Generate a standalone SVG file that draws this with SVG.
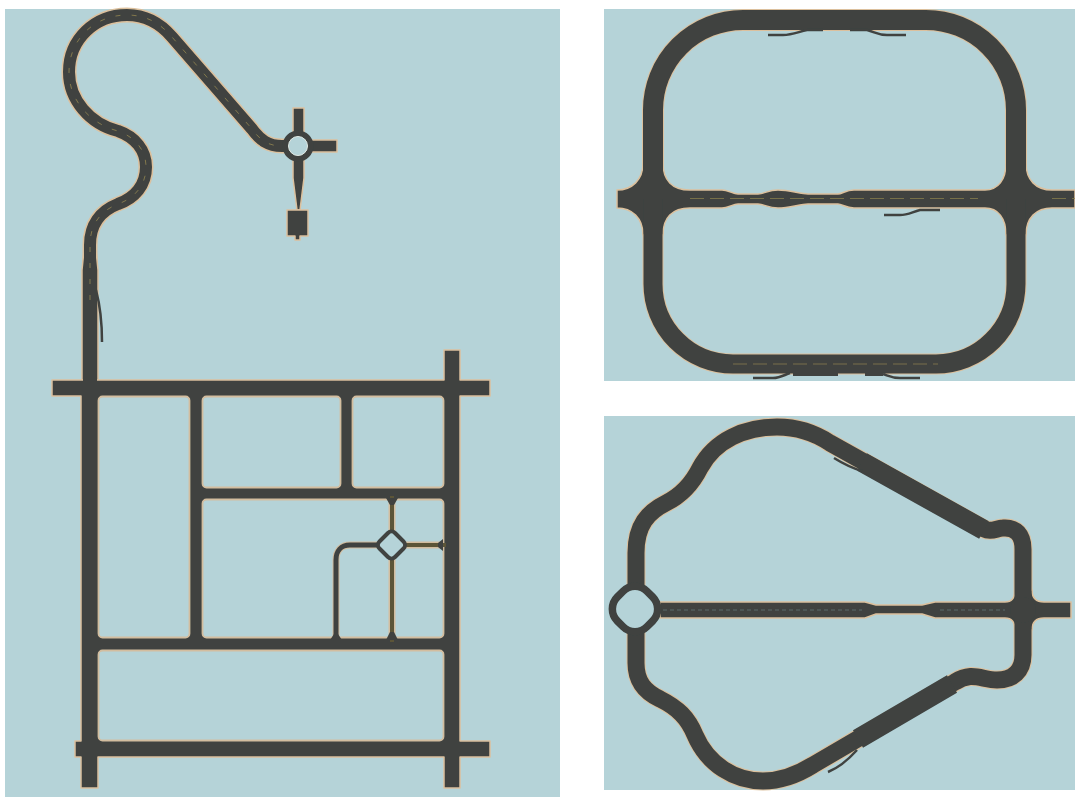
<svg xmlns="http://www.w3.org/2000/svg" width="1075" height="797" viewBox="0 0 1075 797">
<style>
.panel{fill:#b5d3d8}
.casing{fill:none;stroke:#dcc09d;stroke-linecap:butt;stroke-linejoin:round}
.road{fill:none;stroke:#3f4341;stroke-linecap:butt;stroke-linejoin:round}
.solid{fill:#3f4341;stroke:#dcc09d;stroke-width:1.5;stroke-linejoin:round}
.solidn{fill:#3f4341}
.cell{fill:#b5d3d8;stroke:#d3bd9f;stroke-width:1.8}
.ramp{fill:none;stroke:#3f4341;stroke-width:2.5;stroke-linecap:butt}
.mark{fill:none;stroke:#8b7d4e;stroke-width:1;stroke-dasharray:14 6;opacity:.75}
.dash{fill:none;stroke:#93854f;stroke-width:1;stroke-dasharray:5 11;opacity:.8}
</style>
<defs>
<filter id="soft" x="-2%" y="-2%" width="104%" height="104%"><feGaussianBlur stdDeviation="0.7"/></filter>
<path id="leftRoad" d="M90 300 L90 245 C90 225 100 211 118 204 C135 198 146 185 146 167 C146 150 135 137 118 131 C90 124 69 100 69 72 C69 39 95 15 127 15 C146 15 160 23 172 37 L252 129 C260 140 268 146 282 146 L298 146"/>
<path id="ringTop" d="M653 199 L653 110 A90 90 0 0 1 743 20 L926 20 A90 90 0 0 1 1016 110 L1016 199"/>
<path id="ringBottom" d="M653 199 L653 284 A80 80 0 0 0 733 364 L936 364 A80 80 0 0 0 1016 284 L1016 199"/>
<path id="bottomUpper" d="M636 590 L636 553 C636 525 648 512 666 503 C682 495 692 484 700 468 C715 440 745 427 777 427 C798 427 815 433 830 443 L984 529 C992 533 996 528 1003 528 C1016 527 1023 535 1023 549 L1023 610"/>
<path id="bottomLower" d="M636 630 L636 663 C636 682 645 692 660 699 C678 708 688 718 695 735 C708 765 735 781 763 781 C782 781 797 775 813 765 L955 682 C972 671 982 680 997 680 C1013 680 1023 671 1023 655 L1023 610"/>
</defs>
<rect width="1075" height="797" fill="#fff"/>
<g filter="url(#soft)">
<g id="panel-left">
<rect class="panel" x="5" y="9" width="555" height="788"/>
<g id="left-upper-road">
<use href="#leftRoad" class="casing" stroke-width="15"/>
<path class="solid" d="M85 240 L95 240 L98 270 L98 382 L82 382 L82 270 Z"/>
<use href="#leftRoad" class="road" stroke-width="12"/>
<use href="#leftRoad" class="dash"/>
<path class="ramp" d="M96 290 C100 305 102 325 102 342"/>
</g>
<g id="left-roundabout">
<path class="solid" d="M293 108 H304 V135 H293 Z M308 140 H337 V152 H308 Z"/>
<path class="solid" d="M293 158 H304 V178 L300 210 H297 L293 178 Z"/>
<path class="solid" d="M287 210 H308 V236 H300 V240 H295 V236 H287 Z"/>
<circle cx="298" cy="146" r="12.500" fill="#b5d3d8" stroke="#3f4341" stroke-width="6"/>
<circle cx="298" cy="146" r="9.500" fill="#b5d3d8" stroke="#dfe6e0" stroke-width="1"/>
</g>
<g id="left-grid">
<path class="solid" d="M52 380 H444 V350 H460 V380 H490 V396 H460 V741 H490 V757 H460 V788 H444 V757 H98 V788 H81 V757 H75 V741 H81 V396 H52 Z"/>
<rect class="solidn" x="83" y="374" width="14" height="10"/>
<rect class="cell" x="98.500" y="396.500" width="91" height="241" rx="4"/>
<rect class="cell" x="202.500" y="396.500" width="138" height="91" rx="4"/>
<rect class="cell" x="352.500" y="396.500" width="91" height="91" rx="4"/>
<rect class="cell" x="202.500" y="499.500" width="241" height="138" rx="4"/>
<rect class="cell" x="98.500" y="650.500" width="345" height="90" rx="4"/>
<path fill="none" stroke="#d3bd9f" stroke-width="7" d="M392 500 V637 M398 545 H443 M385 545 H350 C341 545 336 551 336 560 V637"/>
<path fill="none" stroke="#3f4341" stroke-width="5" d="M385 545 H350 C341 545 336 551 336 560 V640"/>
<path fill="none" stroke="#5c5437" stroke-width="4" d="M392 496 V642 M392 545 H446"/>
<path class="solidn" d="M386 498 H398 L394 505 H390 Z M386 640 H398 L394 632 H390 Z M330 640 H342 L338 634 H334 Z M443 539 V551 L438 547 V543 Z"/>
<rect id="left-diamond" x="380.500" y="534" width="22" height="22" rx="5" transform="rotate(45 391.500 545)" fill="#b5d3d8" stroke="#3f4341" stroke-width="4"/>
</g>
</g>
<g id="panel-top-right">
<rect class="panel" x="604" y="9" width="471" height="372"/>
<g id="top-ring">
<use href="#ringTop" class="casing" stroke-width="22"/>
<use href="#ringBottom" class="casing" stroke-width="21"/>
</g>
<g id="top-middle-road">
<path class="solid" d="M617 190 C632 190 643 180 643 163 H663 C663 180 672 190 690 190 H722 C728 190 733 194 738 194 H758 C764 194 768 190 778 190 C790 190 800 194 808 194 H838 C842 194 846 190 854 190 H985 C998 190 1006 180 1006 163 H1026 C1026 180 1036 190 1052 190 H1075 V208 H1052 C1036 208 1026 218 1026 235 H1006 C1006 218 998 208 985 208 H854 C846 208 842 204 838 204 H808 C800 204 790 208 778 208 C768 208 764 204 758 204 H738 C733 204 728 208 722 208 H690 C672 208 663 218 663 235 H643 C643 218 632 208 617 208 Z"/>
<path class="mark" d="M690 198.500 H978 M1052 198.500 H1075"/>
</g>
<g id="top-ring-surface">
<use href="#ringTop" class="road" stroke-width="20"/>
<use href="#ringBottom" class="road" stroke-width="19"/>
</g>
<g id="top-ramps">
<path class="ramp" d="M768 35 H783 C792 35 798 32 807 30 H823"/>
<path class="ramp" d="M906 35 H887 C878 35 875 32 867 30 H850"/>
<path class="ramp" d="M884 215 H900 C908 215 912 212 920 210 H940"/>
<path class="ramp" d="M753 378 H773 C780 378 784 375 790 373"/>
<path class="ramp" d="M920 378 H900 C892 378 889 376 883 374"/>
<path class="solidn" d="M793 371 H838 V376 H793 Z M865 371 H883 V376 H865 Z"/>
<path class="mark" d="M733 364 H938"/>
</g>
</g>
<g id="panel-bottom-right">
<rect class="panel" x="604" y="416" width="471" height="374"/>
<g id="bottom-loop">
<use href="#bottomUpper" class="casing" stroke-width="19"/>
<use href="#bottomLower" class="casing" stroke-width="19"/>
</g>
<g id="bottom-axis">
<path class="solid" d="M660 602 H865 L876 605 H922 L935 602 H1005 C1012 602 1015 598 1015 590 H1032 C1032 598 1036 602 1044 602 H1071 V618 H1044 C1036 618 1032 622 1032 630 H1015 C1015 622 1012 618 1005 618 H935 L922 614 H876 L865 618 H660 Z"/>
<path d="M663 610 H862 M940 610 H1005" fill="none" stroke="#5f6a6a" stroke-width="1" stroke-dasharray="4 3"/>
</g>
<g id="bottom-loop-surface">
<use href="#bottomUpper" class="road" stroke-width="17"/>
<use href="#bottomLower" class="road" stroke-width="17"/>
<path d="M862 462 L984 530 M858 739 L952 684" fill="none" stroke="#3f4341" stroke-width="20"/>
<circle class="solidn" cx="1023" cy="610" r="13"/>
<path class="ramp" d="M834 458 C842 463 852 468 862 471" stroke-width="1.500"/>
<path class="ramp" d="M828 772 C838 768 848 760 857 750"/>
</g>
<g id="bottom-roundabout">
<rect x="614" y="588" width="42" height="42" rx="17" transform="rotate(45 635 609)" fill="#b5d3d8" stroke="#3f4341" stroke-width="7.500"/>
</g>
</g>
</g>
</svg>
